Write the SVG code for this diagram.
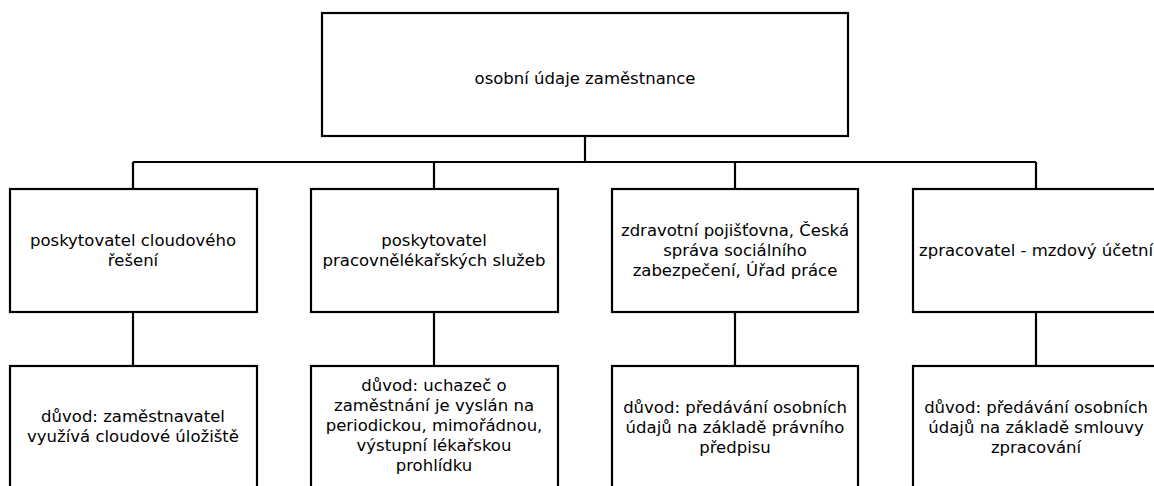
<svg xmlns="http://www.w3.org/2000/svg" width="1154" height="486" viewBox="0 0 1154 486">
<style>
.box{fill:#fff;stroke:#000;stroke-width:2.2}
.ln{fill:none;stroke:#000;stroke-width:2.2}
text{font-family:"DejaVu Sans","Open Sans",sans-serif;font-size:16.5px;fill:#000;text-anchor:middle}
</style>
<rect width="1154" height="486" fill="#fff"/>
<g id="connectors">
<path class="ln" d="M585 136V162M133 162H1036M133 162V189M434 162V189M735 162V189M1036 162V189"/>
<path class="ln" d="M133 312V366M434 312V366M735 312V366M1036 312V366"/>
</g>
<g id="root">
<rect class="box" x="322" y="13" width="526" height="123"/>
<text x="585" y="84">osobní údaje zaměstnance</text>
</g>
<g id="n1">
<rect class="box" x="10" y="189" width="247" height="123"/>
<text x="133" y="246">poskytovatel cloudového</text>
<text x="133" y="266">řešení</text>
</g>
<g id="n2">
<rect class="box" x="311" y="189" width="247" height="123"/>
<text x="434" y="246">poskytovatel</text>
<text x="434" y="266">pracovnělékařských služeb</text>
</g>
<g id="n3">
<rect class="box" x="612" y="189" width="246" height="123"/>
<text x="735" y="236">zdravotní pojišťovna, Česká</text>
<text x="735" y="256">správa sociálního</text>
<text x="735" y="276">zabezpečení, Úřad práce</text>
</g>
<g id="n4">
<rect class="box" x="913" y="189" width="246" height="123"/>
<text x="1036" y="256">zpracovatel - mzdový účetní</text>
</g>
<g id="r1">
<rect class="box" x="10" y="366" width="247" height="130"/>
<text x="133" y="422">důvod: zaměstnavatel</text>
<text x="133" y="442">využívá cloudové úložiště</text>
</g>
<g id="r2">
<rect class="box" x="311" y="366" width="247" height="130"/>
<text x="434" y="391">důvod: uchazeč o</text>
<text x="434" y="411">zaměstnání je vyslán na</text>
<text x="434" y="431">periodickou, mimořádnou,</text>
<text x="434" y="451">výstupní lékařskou</text>
<text x="434" y="471">prohlídku</text>
</g>
<g id="r3">
<rect class="box" x="612" y="366" width="246" height="130"/>
<text x="735" y="413">důvod: předávání osobních</text>
<text x="735" y="433">údajů na základě právního</text>
<text x="735" y="453">předpisu</text>
</g>
<g id="r4">
<rect class="box" x="913" y="366" width="246" height="130"/>
<text x="1036" y="413">důvod: předávání osobních</text>
<text x="1036" y="433">údajů na základě smlouvy</text>
<text x="1036" y="453">zpracování</text>
</g>
</svg>
